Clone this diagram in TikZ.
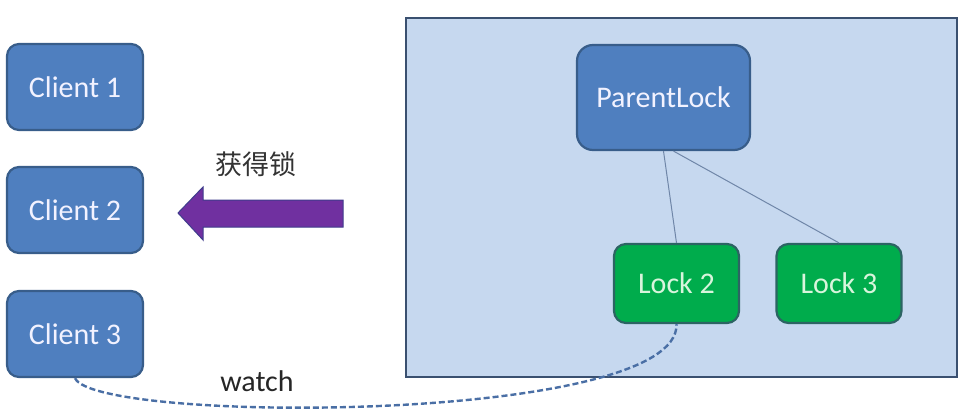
\documentclass[tikz,border=0pt]{standalone}
\usepackage{fontspec}
\setmainfont{Carlito}
\newfontfamily\cjk{Noto Sans CJK SC}
\definecolor{clientfill}{HTML}{4F7FBF}
\definecolor{clientdraw}{HTML}{385D8A}
\definecolor{boxfill}{HTML}{C6D8EF}
\definecolor{boxdraw}{HTML}{3A5070}
\definecolor{greenfill}{HTML}{00AC4C}
\definecolor{greendraw}{HTML}{2C6463}
\definecolor{greentext}{HTML}{D8F5DC}
\definecolor{linkcol}{HTML}{6F86A8}
\definecolor{watchcol}{HTML}{4A6FA5}
\definecolor{arrfill}{HTML}{7030A0}
\definecolor{arrdraw}{HTML}{3F3C8C}
\begin{document}
\begin{tikzpicture}[x=1pt,y=-1pt,
  every node/.style={inner sep=0pt, font=\fontsize{30}{35}\selectfont},
  client/.style={rectangle, rounded corners=12pt, fill=clientfill, draw=clientdraw, line width=2.2pt,
    text=white!95!blue, minimum width=136pt, minimum height=86pt},
  parentbox/.style={client, rounded corners=16pt, minimum width=173pt, minimum height=105pt},
  lockbox/.style={rectangle, rounded corners=12pt, fill=greenfill, draw=greendraw, line width=2.2pt,
    text=greentext, minimum width=125pt, minimum height=79pt},
  zonebox/.style={rectangle, fill=boxfill, draw=boxdraw, line width=2.8pt,
    minimum width=551pt, minimum height=359pt},
  link/.style={draw=linkcol, line width=1pt},
  watchline/.style={draw=watchcol, line width=2.4pt, dash pattern=on 6pt off 3pt}
]
\useasboundingbox (0,0) rectangle (967,415);
\fill[white] (0,0) rectangle (967,415);
\node[zonebox] (zone) at (681.5,197.5) {};
\node[client] (c1) at (75,87) {Client 1};
\node[client] (c2) at (75,210) {Client 2};
\node[client] (c3) at (75,334) {Client 3};
\node[parentbox] (parent) at (663.5,97.5) {ParentLock};
\node[lockbox] (l2) at (676.5,283.5) {Lock 2};
\node[lockbox] (l3) at (839,283.5) {Lock 3};
\draw[link] (parent.south) -- (l2.north);
\draw[link] ([xshift=10pt]parent.south) -- (l3.north);
\draw[watchline] (c3.south) .. controls (95,424) and (680,424) .. (l2.south);
\node[text=black!85] (watch) at (257,381) {watch};
\node[text=black!80] (get) at (256,164) {\cjk\fontsize{27}{32}\selectfont 获得锁};
\filldraw[fill=arrfill, draw=arrdraw, line width=1pt]
  (343,200) -- (203,200) -- (203,187) -- (178,213) -- (203,240) -- (203,227) -- (343,227) -- cycle;
\end{tikzpicture}
\end{document}
